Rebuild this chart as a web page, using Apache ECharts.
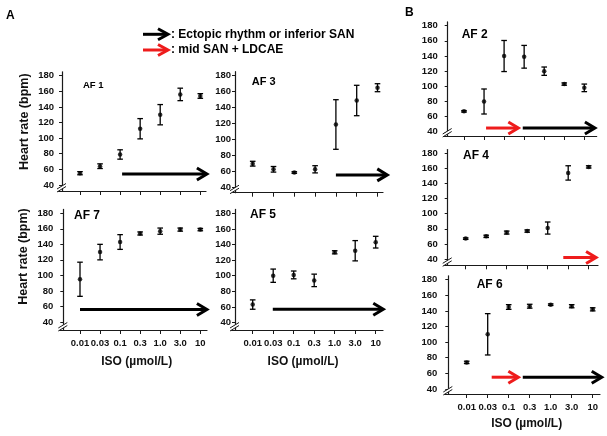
<!DOCTYPE html>
<html><head><meta charset="utf-8">
<script src="https://cdn.jsdelivr.net/npm/echarts@6/dist/echarts.min.js"></script>
<style>html,body{margin:0;padding:0;background:#fff}#c{width:607px;height:436px}</style>
</head><body><div id="c"></div>
<script>
// ---- data ----
const isoLabels = ['0.01','0.03','0.1','0.3','1.0','3.0','10'];
const yTicks = [40,60,80,100,120,140,160,180];

const af1Mean = [55, 64, 79, 112, 130, 156, 154];
const af1Err  = [2, 3, 6, 13, 13, 8, 3];
const af3Mean = [70, 63, 59, 63, 119, 149, 165];
const af3Err  = [3, 3.5, 1, 4.5, 31, 19, 5];
const af7Mean = [95, 130, 143, 154, 157, 159, 159];
const af7Err  = [22, 10, 9.5, 2, 4, 2, 1.5];
const af5Mean = [63, 100, 101, 94, 130, 132, 143];
const af5Err  = [6, 8.5, 5, 8, 2, 13, 7.5];
const af2Mean = [67, 80, 140, 139, 120, 103, 98];
const af2Err  = [1, 16.5, 20.5, 15, 5.5, 1.5, 5];
const af4Mean = [67, 70, 75, 77, 81, 154, 162];
const af4Err  = [1, 1.5, 2, 1.5, 8, 9.5, 1.5];
const af6Mean = [74, 110, 145, 146, 148, 146, 142];
const af6Err  = [1.5, 26.5, 3, 2.5, 1, 2, 2];

// arrows: [from (category index), to (category index), level (bpm), kind]
const af1Arrows = [[2.1, 6.33, 54, 'ectopic']];
const af3Arrows = [[4.0, 6.47, 56, 'ectopic']];
const af7Arrows = [[0.0, 6.33, 56, 'ectopic']];
const af5Arrows = [[0.98, 6.37, 57, 'ectopic']];
const af2Arrows = [[1.1, 2.71, 45, 'mid'], [2.93, 6.53, 45, 'ectopic']];
const af4Arrows = [[4.76, 6.36, 42, 'mid']];
const af6Arrows = [[1.19, 2.46, 55, 'mid'], [2.67, 6.43, 55, 'ectopic']];

// ---- layout / styles ----
const COLORS = {ectopic:'#000000', mid:'#ee1c1c'};
const FONT = 'Liberation Sans, Arial, sans-serif';
const panels = [
 {title:'AF 1', mean:af1Mean, err:af1Err, arrows:af1Arrows, y0:62, y180:75.7, ppu:0.78, c0:80, s:20.05, r:206, xAxisY:191, tx:83, ty:86, ts:9.5, lm:8, showX:false},
 {title:'AF 3', mean:af3Mean, err:af3Err, arrows:af3Arrows, y0:235, y180:75.7, ppu:0.80, c0:252.7, s:20.8, r:383, xAxisY:192.7, tx:251.7, ty:82.7, ts:11, lm:4, showX:false},
 {title:'AF 7', mean:af7Mean, err:af7Err, arrows:af7Arrows, y0:63.3, y180:213.3, ppu:0.776, c0:80, s:20.05, r:207, xAxisY:330, tx:74, ty:216.7, ts:12, lm:10, showX:true},
 {title:'AF 5', mean:af5Mean, err:af5Err, arrows:af5Arrows, y0:235, y180:213.3, ppu:0.78, c0:252.7, s:20.5, r:383, xAxisY:330, tx:250, ty:216, ts:12, lm:4, showX:true},
 {title:'AF 2', mean:af2Mean, err:af2Err, arrows:af2Arrows, y0:447.7, y180:25.7, ppu:0.758, c0:464, s:20.05, r:596.7, xAxisY:136, tx:461.7, ty:36, ts:12, lm:10, showX:false},
 {title:'AF 4', mean:af4Mean, err:af4Err, arrows:af4Arrows, y0:447.7, y180:153.3, ppu:0.755, c0:465.7, s:20.5, r:598, xAxisY:265.3, tx:463, ty:156.7, ts:12, lm:10, showX:false},
 {title:'AF 6', mean:af6Mean, err:af6Err, arrows:af6Arrows, y0:448.3, y180:279.7, ppu:0.78, c0:466.7, s:21, r:600, xAxisY:394, tx:476.7, ty:286, ts:12, lm:11, showX:true}
];

const chart = echarts.init(document.getElementById('c'), null, {renderer:'canvas'});
const grid=[], xAxis=[], yAxis=[], series=[], graphic=[];
const AX = '#1a1a1a';

function errRender(params, api){
  const x = api.value(0), m = api.value(1), e = api.value(2);
  const hi = api.coord([x, m+e]), lo = api.coord([x, m-e]);
  const cw = 2.8;
  const st = {stroke:'#000', lineWidth:1.3};
  return {type:'group', children:[
    {type:'line', shape:{x1:hi[0], y1:hi[1], x2:lo[0], y2:lo[1]}, style:st},
    {type:'line', shape:{x1:hi[0]-cw, y1:hi[1], x2:hi[0]+cw, y2:hi[1]}, style:st},
    {type:'line', shape:{x1:lo[0]-cw, y1:lo[1], x2:lo[0]+cw, y2:lo[1]}, style:st}
  ]};
}
function arrowRender(params, api){
  const a = api.coord([api.value(0), api.value(2)]);
  const b = api.coord([api.value(1), api.value(2)]);
  const c = api.visual('color');
  const st = {stroke:c, lineWidth:3, fill:null, lineJoin:'miter', lineCap:'butt'};
  return {type:'group', children:[
    {type:'line', shape:{x1:a[0], y1:a[1], x2:b[0]-1.5, y2:b[1]}, style:st},
    {type:'polyline', shape:{points:[[b[0]-10,b[1]-6],[b[0],b[1]],[b[0]-10,b[1]+6]]}, style:st}
  ]};
}

panels.forEach((p,i)=>{
  const gl = p.y0 - 4;
  const top = p.y180 - 5*p.ppu;
  const y40 = p.y180 + 140*p.ppu;
  grid.push({left:gl, top:top, width:p.r-gl, height:p.xAxisY-top});
  xAxis.push({type:'value', gridIndex:i, min:(gl-p.c0)/p.s, max:(p.r-p.c0)/p.s,
    splitLine:{show:false},
    axisLine:{show:true, onZero:false, lineStyle:{color:AX, width:1.2}},
    axisTick:{show:true, customValues:[0,1,2,3,4,5,6], length:4, lineStyle:{color:AX, width:1}},
    axisLabel:{show:p.showX, customValues:[0,1,2,3,4,5,6], formatter:v=>isoLabels[Math.round(v)],
      fontSize:9.5, fontWeight:'bold', color:'#111', margin:8, fontFamily:FONT}
  });
  yAxis.push({type:'value', gridIndex:i, min:40-(p.xAxisY-y40)/p.ppu, max:185, offset:-4,
    splitLine:{show:false},
    axisLine:{show:true, onZero:false, lineStyle:{color:AX, width:1.2}},
    axisTick:{show:true, customValues:yTicks, length:3, lineStyle:{color:AX, width:1}},
    axisLabel:{customValues:yTicks, fontSize:9.5, fontWeight:'bold', color:'#111', margin:p.lm, fontFamily:FONT}
  });
  series.push({type:'custom', xAxisIndex:i, yAxisIndex:i, renderItem:errRender, clip:false, z:2,
    data:p.mean.map((m,k)=>[k, m, p.err[k]])});
  series.push({type:'scatter', xAxisIndex:i, yAxisIndex:i, symbol:'circle', symbolSize:4.5, z:3,
    itemStyle:{color:'#000'}, data:p.mean.map((m,k)=>[k, m])});
  series.push({type:'custom', xAxisIndex:i, yAxisIndex:i, renderItem:arrowRender, clip:false, z:4,
    data:p.arrows.map(a=>({value:[a[0], a[1], a[2]], itemStyle:{color:COLORS[a[3]]}}))});
  graphic.push({type:'text', left:p.tx, top:p.ty - p.ts*0.6,
    style:{text:p.title, font:'bold '+p.ts+'px '+FONT, fill:'#000'}});
  const bx = p.y0, by = p.xAxisY - 3.5;
  graphic.push({type:'polygon', shape:{points:[[bx-5,by+1.5],[bx+4,by-4],[bx+4,by-1],[bx-5,by+4.5]]}, style:{fill:'#fff'}, z:10});
  graphic.push({type:'line', shape:{x1:bx-5, y1:by+1.5, x2:bx+4, y2:by-4}, style:{stroke:AX, lineWidth:1}, z:11});
  graphic.push({type:'line', shape:{x1:bx-5, y1:by+4.5, x2:bx+4, y2:by-1}, style:{stroke:AX, lineWidth:1}, z:11});
});

const yName = 'Heart rate (bpm)';
const xName = 'ISO (\u00b5mol/L)';
[[25,121.7],[24,256.5]].forEach(c=>{
  graphic.push({type:'text', x:c[0], y:c[1], rotation:Math.PI/2,
    style:{text:yName, font:'bold 12.5px '+FONT, fill:'#111', align:'center', verticalAlign:'middle'}});
});
[[136.7,361.7],[303,361.7],[526.7,424]].forEach(c=>{
  graphic.push({type:'text', x:c[0], y:c[1],
    style:{text:xName, font:'bold 12px '+FONT, fill:'#111', align:'center', verticalAlign:'middle'}});
});
graphic.push({type:'text', x:6, y:16, style:{text:'A', font:'bold 12px '+FONT, fill:'#000', verticalAlign:'middle'}});
graphic.push({type:'text', x:405, y:13, style:{text:'B', font:'bold 12px '+FONT, fill:'#000', verticalAlign:'middle'}});
const legendItems = [[34.3,'ectopic',': Ectopic rhythm or inferior SAN'],[50,'mid',': mid SAN + LDCAE']];
legendItems.forEach(l=>{
  const y=l[0], c=COLORS[l[1]];
  graphic.push({type:'line', shape:{x1:143, y1:y, x2:166.5, y2:y}, style:{stroke:c, lineWidth:3}});
  graphic.push({type:'polyline', shape:{points:[[158,y-5.5],[168,y],[158,y+5.5]]}, style:{stroke:c, lineWidth:3, fill:null, lineJoin:'miter'}});
  graphic.push({type:'text', x:171, y:y, style:{text:l[2], font:'bold 12px '+FONT, fill:'#000', verticalAlign:'middle'}});
});

chart.setOption({animation:false, backgroundColor:'#fff', grid, xAxis, yAxis, series, graphic});
</script></body></html>
